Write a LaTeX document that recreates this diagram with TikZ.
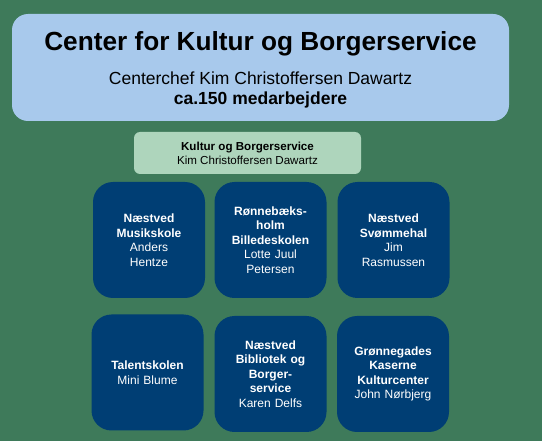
\documentclass[tikz,border=0pt]{standalone}
\usepackage{fontspec}
\setmainfont{Liberation Sans}
\definecolor{bggreen}{HTML}{3E7A5A}
\definecolor{headblue}{HTML}{A8C9EC}
\definecolor{leadgreen}{HTML}{AED5BC}
\definecolor{unitblue}{HTML}{003E74}
\tikzset{
  unit/.style={fill=unitblue, rounded corners=20pt, minimum width=112pt,
    minimum height=116pt, text width=100pt, align=center, text=white,
    inner sep=0pt, font=\fontsize{12}{14.5}\selectfont},
}
\begin{document}
\begin{tikzpicture}[x=1pt,y=-1pt]
    \fill [bggreen] (0,0) rectangle (542,441);
    \useasboundingbox (0,0) rectangle (542,441);
    % center box
    \node [fill=headblue, rounded corners=16pt, minimum width=497pt, minimum height=107pt] (head) at (260.5,67.5) {};
    \node [font=\bfseries\fontsize{26.2}{30}\selectfont] (title) at (260.5,44) {Center for Kultur og Borgerservice};
    \node [font=\fontsize{17.5}{20}\selectfont] (chief) at (260.5,78) {Centerchef Kim Christoffersen Dawartz};
    \node [font=\bfseries\fontsize{17.5}{20}\selectfont] (staff) at (260.5,100) {ca.150 medarbejdere};
    % leader box
    \node [fill=leadgreen, rounded corners=6pt, minimum width=227pt, minimum height=42pt, align=center,
        font=\fontsize{11.6}{14}\selectfont] (lead) at (247.5,153)
        {\textbf{Kultur og Borgerservice}\\Kim Christoffersen Dawartz};
    % units
    \node [unit] (musik) at (149,240) {\textbf{Næstved\\Musikskole}\\Anders\\Hentze};
    \node [unit] (billed) at (270.5,240) {\textbf{Rønnebæks-\\holm\\Billedeskolen}\\Lotte Juul\\Petersen};
    \node [unit] (svom) at (393.5,240) {\textbf{Næstved\\Svømmehal}\\Jim\\Rasmussen};
    \node [unit] (talent) at (147.5,372.5) {\textbf{Talentskolen}\\Mini Blume};
    \node [unit] (bibl) at (270.5,374) {\textbf{Næstved\\Bibliotek og\\Borger-\\service}\\Karen Delfs};
    \node [unit] (kaserne) at (393,374) {\textbf{Grønnegades\\Kaserne\\Kulturcenter}\\John Nørbjerg};
\end{tikzpicture}
\end{document}
